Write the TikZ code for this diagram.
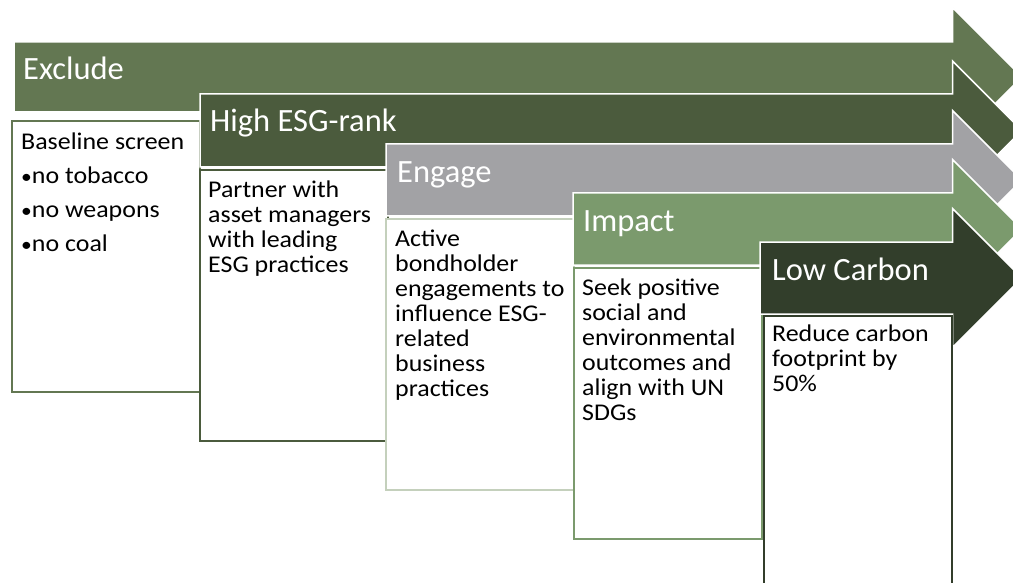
\documentclass[tikz,border=0pt]{standalone}
\usepackage{fontspec}
\setmainfont{Carlito}
\newfontfamily\bodyfont{Carlito}[FakeStretch=1.08]
\definecolor{cexclude}{HTML}{637752}
\definecolor{chigh}{HTML}{4B5B3D}
\definecolor{cengage}{HTML}{A2A2A5}
\definecolor{cengbox}{HTML}{C4D0BC}
\definecolor{cimpact}{HTML}{7B9A6D}
\definecolor{clow}{HTML}{323E2B}
\newcommand{\esgarrow}[4]{%
  \fill[#1, draw=white, line width=1.5pt] (#2,#3) -- (952.5,#3) -- (952.5,{(#3+#4)/2-69.5}) -- (1022,{(#3+#4)/2}) -- (952.5,{(#3+#4)/2+69.5}) -- (952.5,#4) -- (#2,#4) -- cycle;}
\newcommand{\fl}{\rule{0pt}{20pt}}
\tikzset{
  boxshape/.style={draw=#1, fill=white, line width=2pt, minimum width=188pt, minimum height=271pt, anchor=north west, inner sep=0pt, outer sep=0pt},
  headtext/.style={text=white, font=\fontsize{32.5}{36}\selectfont, anchor=base west, inner sep=0pt},
  bodytext/.style={text=black, font=\bodyfont\fontsize{24}{25}\selectfont, align=left, anchor=north west, inner sep=0pt}
}
\begin{document}
\begin{tikzpicture}[x=1pt,y=-1pt]
\useasboundingbox (0,0) rectangle (1013,583);
\clip (0,0) rectangle (1013,583);
% Exclude
\esgarrow{cexclude}{14}{42}{112}
\node[headtext] (h1) at (23,80) {Exclude};
\node[boxshape=cexclude] (b1) at (12,121) {};
\node[bodytext] (t1) at (21,129.3) {\fl Baseline screen\\[9pt]{\fontsize{20}{25}\selectfont •}no tobacco\\[9pt]{\fontsize{20}{25}\selectfont •}no weapons\\[9pt]{\fontsize{20}{25}\selectfont •}no coal};
% High ESG-rank
\esgarrow{chigh}{200}{94}{167}
\node[headtext] (h2) at (210,132) {High ESG-rank};
\node[boxshape=chigh] (b2) at (200,170) {};
\node[bodytext] (t2) at (208,177.3) {\fl Partner with\\asset managers\\with leading\\ESG practices};
% Engage
\esgarrow{cengage}{386}{144}{216}
\node[headtext] (h3) at (397,182.7) {Engage};
\node[boxshape=cengbox] (b3) at (386,219) {};
\node[bodytext] (t3) at (395,226.7) {\fl Active\\bondholder\\engagements to\\influence ESG-\\related\\business\\practices};
% Impact
\esgarrow{cimpact}{573}{193}{265}
\node[headtext] (h4) at (583,231.5) {Impact};
\node[boxshape=cimpact] (b4) at (574,268) {};
\node[bodytext] (t4) at (582,275) {\fl Seek positive\\social and\\environmental\\outcomes and\\align with UN\\SDGs};
% Low Carbon
\esgarrow{clow}{760}{242}{314}
\node[headtext] (h5) at (772,280) {Low Carbon};
\node[boxshape=clow] (b5) at (764,316) {};
\node[bodytext] (t5) at (772,321.7) {\fl Reduce carbon\\footprint by\\50\%};
\end{tikzpicture}
\end{document}
